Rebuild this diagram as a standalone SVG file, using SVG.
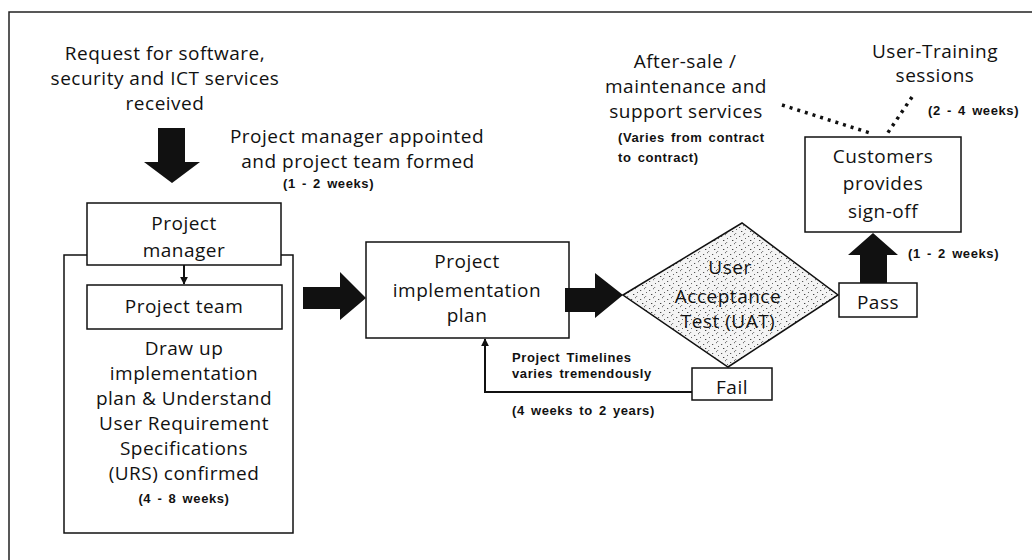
<svg xmlns="http://www.w3.org/2000/svg" width="1032" height="560" viewBox="0 0 1032 560">
<defs>
<style>
.t{font-family:"Open Sans","Liberation Sans",Arial,sans-serif;font-size:19px;letter-spacing:0.5px;fill:#111;text-anchor:middle}
.b{font-family:"Liberation Sans",Arial,sans-serif;font-size:13px;font-weight:bold;letter-spacing:0.6px;word-spacing:2px;fill:#111}
.box{fill:#fff;stroke:#111;stroke-width:1.5}
.fat{fill:#111}
</style>
<pattern id="stip" width="9" height="9" patternUnits="userSpaceOnUse">
<rect width="9" height="9" fill="#f4f4f4"/>
<rect x="1" y="2" width="1.2" height="1" fill="#555"/>
<rect x="5" y="0" width="1" height="1.2" fill="#777"/>
<rect x="3" y="6" width="1.3" height="1" fill="#444"/>
<rect x="7" y="4" width="1" height="1" fill="#666"/>
<rect x="6" y="8" width="1.2" height="1" fill="#888"/>
</pattern>
<marker id="ah" viewBox="0 0 10 10" refX="9" refY="5" markerWidth="8" markerHeight="8" orient="auto" markerUnits="userSpaceOnUse"><path d="M0,0 L10,5 L0,10 z" fill="#111"/></marker>
</defs>
<rect width="1032" height="560" fill="#fff"/>
<g id="frame" fill="none" stroke="#222" stroke-width="1.5">
<path d="M9,560 V12 H1032"/>
</g>
<g id="request">
<text class="t" x="165" y="60">Request for software,</text>
<text class="t" x="165" y="85">security and ICT services</text>
<text class="t" x="165" y="110">received</text>
</g>
<g id="appoint-label">
<text class="t" x="357" y="143">Project manager appointed</text>
<text class="t" x="358" y="168">and project team formed</text>
<text class="b" x="283" y="188">(1 - 2 weeks)</text>
</g>
<g id="outer-box">
<rect class="box" x="64" y="255" width="229" height="278"/>
<text class="t" x="184" y="355">Draw up</text>
<text class="t" x="184" y="380">implementation</text>
<text class="t" x="184" y="405">plan &amp; Understand</text>
<text class="t" x="184" y="430">User Requirement</text>
<text class="t" x="184" y="455">Specifications</text>
<text class="t" x="184" y="480">(URS) confirmed</text>
<text class="b" x="184" y="503" text-anchor="middle">(4 - 8 weeks)</text>
</g>
<g id="manager">
<rect class="box" x="87" y="203" width="194" height="62"/>
<text class="t" x="184" y="230">Project</text>
<text class="t" x="184" y="257">manager</text>
</g>
<g id="team">
<rect class="box" x="87" y="285" width="195" height="44"/>
<text class="t" x="184" y="313">Project team</text>
</g>
<g id="plan">
<rect class="box" x="366" y="242" width="203" height="96"/>
<text class="t" x="467" y="268">Project</text>
<text class="t" x="467" y="297">implementation</text>
<text class="t" x="467" y="322">plan</text>
</g>
<g id="uat">
<path d="M623,295 L742,223 L838,295 L728,367 Z" fill="url(#stip)" stroke="#111" stroke-width="1.5"/>
<text class="t" x="730" y="274">User</text>
<text class="t" x="728" y="303">Acceptance</text>
<text class="t" x="728" y="328">Test (UAT)</text>
</g>
<g id="pass">
<rect class="box" x="839" y="283" width="78" height="34"/>
<text class="t" x="878" y="309">Pass</text>
</g>
<g id="fail">
<rect class="box" x="692" y="368" width="80" height="32"/>
<text class="t" x="732" y="394">Fail</text>
</g>
<g id="customers">
<rect class="box" x="805" y="137" width="156" height="95"/>
<text class="t" x="883" y="163">Customers</text>
<text class="t" x="883" y="190">provides</text>
<text class="t" x="883" y="218">sign-off</text>
</g>
<g id="aftersale">
<text class="t" x="685" y="68">After-sale /</text>
<text class="t" x="686" y="93">maintenance and</text>
<text class="t" x="686" y="118">support services</text>
<text class="b" x="618" y="142">(Varies from contract</text>
<text class="b" x="618" y="162">to contract)</text>
</g>
<g id="training">
<text class="t" x="935" y="58">User-Training</text>
<text class="t" x="935" y="82">sessions</text>
<text class="b" x="928" y="115">(2 - 4 weeks)</text>
</g>
<g id="labels">
<text class="b" x="512" y="362">Project Timelines</text>
<text class="b" x="512" y="378">varies tremendously</text>
<text class="b" x="512" y="415">(4 weeks to 2 years)</text>
<text class="b" x="908" y="258">(1 - 2 weeks)</text>
</g>
<g id="connectors">
<path class="fat" d="M158,128 H185 V162 H200 L172,183 L144,162 H158 Z"/>
<path d="M184,265 V284" stroke="#111" stroke-width="2" marker-end="url(#ah)"/>
<path class="fat" d="M303,287 H340 V272 L366,298 L340,320 V309 H303 Z"/>
<path class="fat" d="M565,288 H595 V273 L623,295 L595,318 V312 H565 Z"/>
<path class="fat" d="M860,283 V255 H848 L873,233 L898,255 H887 V283 Z"/>
<path d="M692,392 H485 V339" fill="none" stroke="#111" stroke-width="2" marker-end="url(#ah)"/>
<path d="M782,105 L870,133" fill="none" stroke="#111" stroke-width="3.5" stroke-dasharray="3,5"/>
<path d="M912,97 L887,134" fill="none" stroke="#111" stroke-width="3.5" stroke-dasharray="3,5"/>
</g>
</svg>
